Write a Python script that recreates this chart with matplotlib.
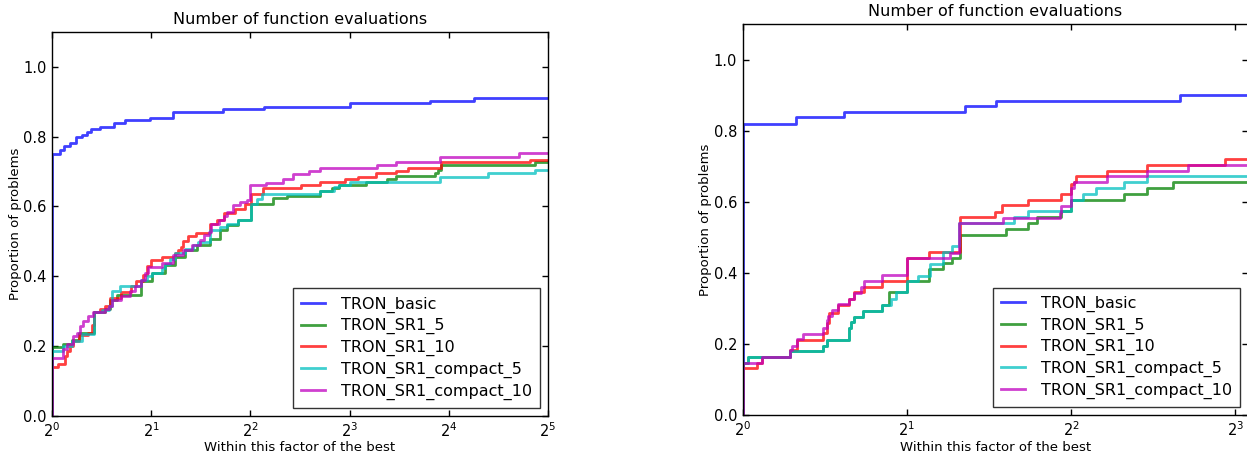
import numpy as np
import matplotlib
matplotlib.use("Agg")
import matplotlib.pyplot as plt
from matplotlib.ticker import LogLocator, NullLocator, FixedLocator

# ---------------- data (x = log2 of performance ratio, y = proportion) -------------
labels = ["TRON_basic", "TRON_SR1_5", "TRON_SR1_10", "TRON_SR1_compact_5", "TRON_SR1_compact_10"]
colors = ["b", "g", "r", "c", "m"]

# Left panel
L_basic_x = [0, 0.081, 0.121, 0.181, 0.242, 0.30, 0.35, 0.39, 0.484, 0.625, 0.736, 0.988, 1.223, 1.72, 2.14, 3.0, 3.81, 4.25]
L_basic_y = [0.749, 0.762, 0.774, 0.783, 0.798, 0.806, 0.814, 0.822, 0.829, 0.840, 0.847, 0.854, 0.870, 0.878, 0.885, 0.896, 0.903, 0.912]

L_sr5_x = [0, 0.11, 0.2, 0.27, 0.42, 0.53, 0.58, 0.66, 0.894, 1.005, 1.14, 1.24, 1.34, 1.46, 1.59, 1.69, 1.76, 1.88, 2.01, 2.23, 2.37, 2.70, 2.82, 2.89, 3.17, 3.38, 3.47, 3.86, 3.89, 3.92, 4.87]
L_sr5_y = [0.196, 0.205, 0.217, 0.236, 0.297, 0.305, 0.333, 0.347, 0.385, 0.41, 0.432, 0.456, 0.475, 0.49, 0.508, 0.532, 0.546, 0.562, 0.608, 0.623, 0.63, 0.644, 0.652, 0.661, 0.669, 0.678, 0.687, 0.695, 0.704, 0.719, 0.726]

L_sr10_x = [0, 0.064, 0.13, 0.155, 0.18, 0.215, 0.276, 0.36, 0.40, 0.425, 0.484, 0.534, 0.585, 0.70, 0.80, 0.85, 0.92, 0.954, 1.0, 1.106, 1.24, 1.27, 1.30, 1.32, 1.37, 1.45, 1.59, 1.66, 1.73, 1.84, 1.95, 2.01, 2.13, 2.51, 2.70, 2.95, 3.08, 3.27, 3.47, 3.59, 3.92, 4.82]
L_sr10_y = [0.139, 0.148, 0.172, 0.186, 0.2, 0.213, 0.232, 0.238, 0.26, 0.297, 0.305, 0.314, 0.338, 0.354, 0.371, 0.385, 0.404, 0.428, 0.447, 0.454, 0.466, 0.475, 0.484, 0.5, 0.516, 0.524, 0.551, 0.562, 0.581, 0.593, 0.608, 0.636, 0.654, 0.661, 0.669, 0.678, 0.685, 0.695, 0.702, 0.71, 0.726, 0.733]

L_c5_x = [0, 0.11, 0.2, 0.3, 0.42, 0.50, 0.57, 0.60, 0.686, 0.90, 0.955, 1.005, 1.11, 1.14, 1.19, 1.24, 1.34, 1.42, 1.47, 1.59, 1.69, 1.76, 1.88, 2.01, 2.07, 2.12, 2.70, 2.84, 2.89, 3.0, 3.1, 3.91, 4.40, 4.87]
L_c5_y = [0.186, 0.2, 0.215, 0.233, 0.297, 0.303, 0.314, 0.357, 0.371, 0.39, 0.40, 0.41, 0.423, 0.435, 0.448, 0.466, 0.477, 0.489, 0.499, 0.532, 0.541, 0.551, 0.56, 0.608, 0.622, 0.637, 0.645, 0.655, 0.661, 0.669, 0.671, 0.685, 0.695, 0.703]

L_c10_x = [0, 0.114, 0.148, 0.208, 0.25, 0.282, 0.316, 0.366, 0.417, 0.534, 0.578, 0.60, 0.70, 0.786, 0.837, 0.90, 0.94, 0.97, 1.106, 1.22, 1.32, 1.41, 1.49, 1.53, 1.58, 1.60, 1.68, 1.73, 1.76, 1.82, 1.90, 1.97, 2.0, 2.16, 2.33, 2.43, 2.59, 2.70, 3.28, 3.47, 3.91, 4.71]
L_c10_y = [0.164, 0.191, 0.205, 0.229, 0.238, 0.257, 0.271, 0.286, 0.297, 0.305, 0.314, 0.333, 0.344, 0.357, 0.371, 0.39, 0.409, 0.425, 0.437, 0.461, 0.475, 0.489, 0.503, 0.518, 0.527, 0.551, 0.562, 0.572, 0.584, 0.605, 0.612, 0.619, 0.66, 0.667, 0.678, 0.693, 0.702, 0.709, 0.719, 0.726, 0.743, 0.752]

# Right panel
R_basic_x = [0, 0.324, 0.616, 1.353, 1.545, 2.665]
R_basic_y = [0.82, 0.838, 0.853, 0.869, 0.885, 0.901]

R_sr5_x = [0, 0.035, 0.289, 0.488, 0.512, 0.65, 0.66, 0.675, 0.73, 0.848, 0.894, 1.0, 1.137, 1.217, 1.275, 1.325, 1.606, 1.735, 1.79, 1.94, 2.0, 2.32, 2.46, 2.62]
R_sr5_y = [0.146, 0.164, 0.18, 0.195, 0.211, 0.244, 0.263, 0.277, 0.293, 0.31, 0.345, 0.377, 0.41, 0.427, 0.443, 0.508, 0.524, 0.54, 0.557, 0.575, 0.606, 0.622, 0.64, 0.657]

R_sr10_x = [0, 0.085, 0.116, 0.289, 0.33, 0.488, 0.512, 0.526, 0.583, 0.65, 0.68, 0.736, 0.85, 1.0, 1.137, 1.325, 1.535, 1.58, 1.74, 1.94, 2.0, 2.02, 2.03, 2.22, 2.46, 2.935]
R_sr10_y = [0.131, 0.146, 0.164, 0.183, 0.211, 0.23, 0.258, 0.286, 0.31, 0.328, 0.346, 0.36, 0.377, 0.443, 0.46, 0.557, 0.572, 0.59, 0.606, 0.622, 0.65, 0.657, 0.673, 0.688, 0.704, 0.72]

R_c5_x = [0, 0.035, 0.289, 0.488, 0.512, 0.65, 0.66, 0.675, 0.73, 0.848, 0.903, 0.936, 1.0, 1.065, 1.14, 1.217, 1.275, 1.318, 1.653, 1.735, 2.0, 2.07, 2.15, 2.32, 2.46]
R_c5_y = [0.146, 0.164, 0.18, 0.195, 0.211, 0.244, 0.263, 0.277, 0.293, 0.31, 0.327, 0.345, 0.377, 0.392, 0.425, 0.458, 0.475, 0.54, 0.557, 0.573, 0.606, 0.622, 0.64, 0.657, 0.673]

R_c10_x = [0, 0.116, 0.289, 0.30, 0.33, 0.366, 0.488, 0.512, 0.518, 0.543, 0.583, 0.65, 0.68, 0.72, 0.741, 0.85, 1.0, 1.264, 1.318, 1.584, 1.93, 1.94, 2.0, 2.02, 2.22, 2.46, 2.71]
R_c10_y = [0.146, 0.164, 0.183, 0.194, 0.213, 0.228, 0.244, 0.268, 0.28, 0.296, 0.312, 0.328, 0.343, 0.36, 0.377, 0.394, 0.443, 0.455, 0.54, 0.555, 0.57, 0.589, 0.64, 0.657, 0.673, 0.688, 0.705]

left_series = [(L_basic_x, L_basic_y), (L_sr5_x, L_sr5_y), (L_sr10_x, L_sr10_y), (L_c5_x, L_c5_y), (L_c10_x, L_c10_y)]
right_series = [(R_basic_x, R_basic_y), (R_sr5_x, R_sr5_y), (R_sr10_x, R_sr10_y), (R_c5_x, R_c5_y), (R_c10_x, R_c10_y)]

title = "Number of function evaluations"
xlabel = "Within this factor of the best"
ylabel = "Proportion of problems"
left_xmax_log2 = 5.0
right_xmax_log2 = 3.08

# ---------------- figure ----------------
fig = plt.figure(figsize=(12.47, 4.55), dpi=100)
W, H = 1247.0, 455.0
axL = fig.add_axes([52 / W, (H - 415.7) / H, 496 / W, 383.7 / H])
axR = fig.add_axes([742.7 / W, (H - 415) / H, 505.7 / W, 390.7 / H])


def draw(ax, series, xmax_log2):
    xmax = 2.0 ** xmax_log2
    for (lx, ly), col, lab in zip(series, colors, labels):
        tau = [1.0] + [2.0 ** v for v in lx] + [xmax]
        yy = [0.0] + list(ly) + [ly[-1]]
        ax.step(tau, yy, where="post", color=col, alpha=0.75, lw=2.0, label=lab)
    ax.set_xscale("log", base=2)
    ax.set_xlim(1, xmax)
    ax.set_ylim(0, 1.1)
    ax.xaxis.set_major_locator(LogLocator(base=2))
    ax.xaxis.set_minor_locator(NullLocator())
    ax.yaxis.set_major_locator(FixedLocator([0.0, 0.2, 0.4, 0.6, 0.8, 1.0]))
    ax.set_yticklabels(["0.0", "0.2", "0.4", "0.6", "0.8", "1.0"])
    ax.tick_params(direction="in", top=True, right=True, length=4, width=1, labelsize=10.5, pad=4)
    for s in ax.spines.values():
        s.set_linewidth(1.0)
    ax.set_title(title, fontsize=11.5, pad=6)
    ax.set_xlabel(xlabel, fontsize=9.5, labelpad=1)
    ax.set_ylabel(ylabel, fontsize=9.5, labelpad=1)
    leg = ax.legend(loc="lower right", fontsize=11.5, fancybox=False, frameon=True,
                    handlelength=1.5, handletextpad=1.0, labelspacing=0.35,
                    borderpad=0.5, borderaxespad=0.5)
    leg.get_frame().set_edgecolor("black")
    leg.get_frame().set_linewidth(1.0)


draw(axL, left_series, left_xmax_log2)
draw(axR, right_series, right_xmax_log2)

fig.savefig("out.png", dpi=100)
